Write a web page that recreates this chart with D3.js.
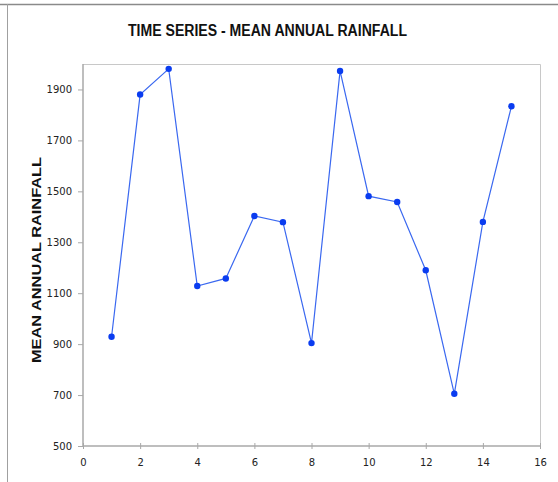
<!DOCTYPE html>
<html><head><meta charset="utf-8">
<script src="https://cdn.jsdelivr.net/npm/d3@7"></script>
<style>body{margin:0;background:#fff}svg{display:block}</style>
</head><body>
<script>
const years = [1,2,3,4,5,6,7,8,9,10,11,12,13,14,15];
const rainfall = [929,1880,1981,1128,1158,1403,1379,904,1973,1481,1458,1190,705,1380,1834];
const xTicks = [0,2,4,6,8,10,12,14,16];
const yTicks = [500,700,900,1100,1300,1500,1700,1900];
const title = "TIME SERIES - MEAN ANNUAL RAINFALL";
const yTitle = "MEAN ANNUAL  RAINFALL";

const W = 558, H = 482;
const m = {left:83, top:64, right:540, bottom:446};
const svg = d3.select("body").append("svg").attr("width",W).attr("height",H);

// outer frame lines
svg.append("line").attr("x1",0).attr("x2",W).attr("y1",4.5).attr("y2",4.5).attr("stroke","#8a8a8a").attr("stroke-width",1.5);
svg.append("line").attr("x1",7.5).attr("x2",7.5).attr("y1",4).attr("y2",H).attr("stroke","#a0a0a0").attr("stroke-width",1);

const x = d3.scaleLinear().domain([0,16]).range([m.left,m.right]);
const y = d3.scaleLinear().domain([500,2000]).range([m.bottom,m.top]);

// plot border top/right
svg.append("path").attr("d",`M${m.left},${m.top+0.5}H${m.right+0.5}V${m.bottom}`)
  .attr("fill","none").attr("stroke","#c8c8c8").attr("stroke-width",1);

// y axis
const ya = svg.append("g").attr("transform",`translate(${m.left},0)`)
  .call(d3.axisLeft(y).tickValues(yTicks).tickSize(5).tickPadding(6).tickFormat(d3.format("d")));
ya.select(".domain").attr("stroke","#a8a8a8").attr("stroke-width",1.5).attr("d",`M0,${m.top}V${m.bottom}`);
ya.selectAll(".tick line").attr("stroke","#a8a8a8");
ya.selectAll(".tick text").attr("font-family","DejaVu Sans, sans-serif").attr("font-size",10).attr("fill","#222");

// x axis
const xa = svg.append("g").attr("transform",`translate(0,${m.bottom})`)
  .call(d3.axisBottom(x).tickValues(xTicks).tickSize(3).tickPadding(10));
xa.select(".domain").attr("stroke","#a8a8a8").attr("stroke-width",1.5).attr("d",`M${m.left},0H${m.right}`);
xa.selectAll(".tick line").attr("stroke","#a8a8a8").attr("y1",-3).attr("y2",3);
xa.selectAll(".tick text").attr("font-family","DejaVu Sans, sans-serif").attr("font-size",10).attr("fill","#222");

// line
const data = years.map((d,i)=>({x:d,y:rainfall[i]}));
svg.append("path").datum(data)
  .attr("d",d3.line().x(d=>x(d.x)).y(d=>y(d.y)))
  .attr("fill","none").attr("stroke","#3a68f0").attr("stroke-width",1.2);
svg.selectAll("circle.pt").data(data).join("circle").attr("class","pt")
  .attr("cx",d=>x(d.x)).attr("cy",d=>y(d.y)).attr("r",3.2).attr("fill","#0a3cf0");

// titles
svg.append("text").attr("x",267.5).attr("y",36).attr("text-anchor","middle")
  .attr("font-family","Liberation Sans, Arial, sans-serif").attr("font-weight","bold").attr("font-size",16)
  .attr("textLength",279).attr("lengthAdjust","spacingAndGlyphs").attr("fill","#111").text(title);
svg.append("text").attr("transform","translate(41,260) rotate(-90)").attr("text-anchor","middle")
  .attr("font-family","Liberation Sans, Arial, sans-serif").attr("font-weight","bold").attr("font-size",13)
  .attr("textLength",206).attr("lengthAdjust","spacingAndGlyphs").attr("fill","#111").text(yTitle);
</script>
</body></html>
